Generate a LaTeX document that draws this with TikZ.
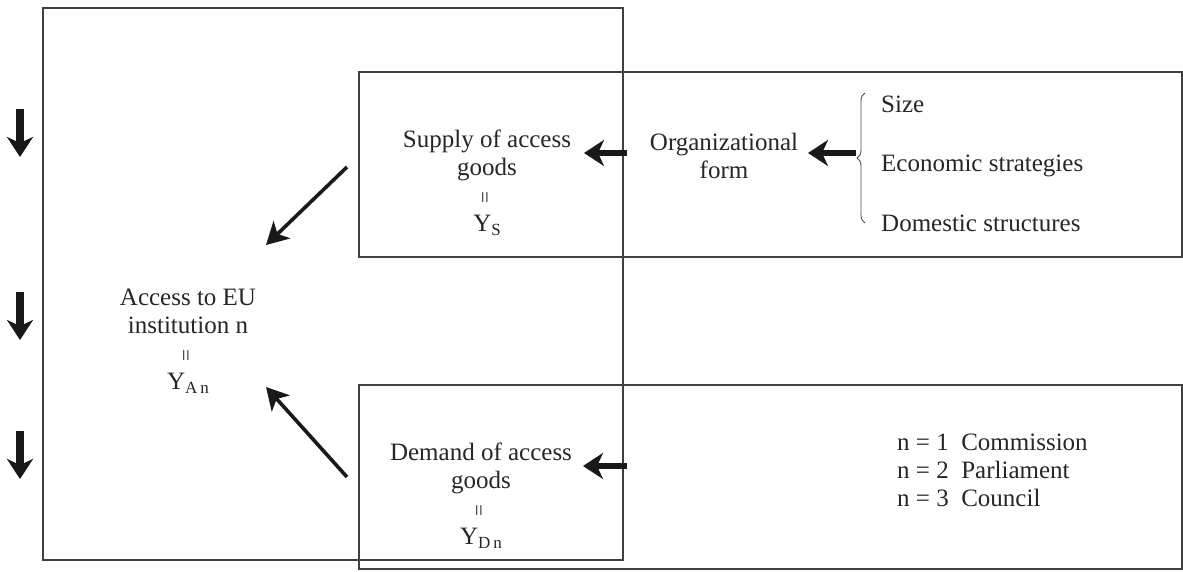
\documentclass[tikz,border=0pt]{standalone}
\usepackage{fontspec}
\setmainfont{Liberation Serif}
\usetikzlibrary{arrows.meta,decorations.pathreplacing}
\newcommand{\eqv}{{\fontsize{21}{21}\selectfont\rotatebox{90}{=}}}
\newcommand{\subs}[1]{\raisebox{-0.35ex}{\fontsize{17}{17}\selectfont #1}}
\begin{document}
\begin{tikzpicture}[x=1pt,y=-1pt,
  every node/.style={font=\fontsize{25}{28}\selectfont, text=black!85, inner sep=0pt},
  boxline/.style={draw=black!75, line width=1.6pt},
  thickarrow/.style={draw=black!90, line width=5.5pt, -{Stealth[length=20pt,width=26pt,inset=6pt]}},
  diagarrow/.style={draw=black!90, line width=3.6pt, -{Stealth[length=22pt,width=24pt,inset=6pt]}},
  downarrow/.style={draw=black!90, line width=7.5pt, -{Stealth[length=20pt,width=26pt,inset=6pt]}}]
\useasboundingbox (0,0) rectangle (1183,571);
% boxes
\draw[boxline] (43,8) rectangle (623,560);
\draw[boxline] (359,72) rectangle (1182,257);
\draw[boxline] (359,385) rectangle (1182,569);
% texts
\node[align=center] (supply) at (487,183) {Supply of access\\goods\\\eqv\\Y\subs{S}};
\node[align=center] (org) at (724,156) {Organizational\\form};
\node[align=center] (access) at (188,341) {Access to EU\\institution n\\\eqv\\Y\subs{A\,n}};
\node[align=center] (demand) at (481,496) {Demand of access\\goods\\\eqv\\Y\subs{D\,n}};
\node[anchor=west] (size) at (881,104) {Size};
\node[anchor=west] (econ) at (881,166) {Economic strategies};
\node[anchor=west] (dom) at (881,223) {Domestic structures};
\node[anchor=west,align=left] (nlist) at (897,470) {n = 1~~Commission\\n = 2~~Parliament\\n = 3~~Council};
% brace
\draw[draw=black!70, line width=0.9pt, decorate, decoration={brace, amplitude=8pt}] (865,223) -- (865,93) coordinate[pos=0.5] (bracetip);
% coordinates for arrow ends
\coordinate (s1) at (627,153);
\coordinate (e1) at (584,153);
\coordinate (s2) at (856,153);
\coordinate (e2) at (808,153);
\coordinate (s3) at (627,466);
\coordinate (e3) at (583,466);
\coordinate (d1s) at (347,167);
\coordinate (d1e) at (266,245);
\coordinate (d2s) at (347,477);
\coordinate (d2e) at (266,387);
\draw[thickarrow] (s1) -- (e1);
\draw[thickarrow] (s2) -- (e2);
\draw[thickarrow] (s3) -- (e3);
\draw[diagarrow] (d1s) -- (d1e);
\draw[diagarrow] (d2s) -- (d2e);
% left down arrows
\coordinate (a1s) at (20,109);
\coordinate (a1e) at (20,157);
\coordinate (a2s) at (20,292);
\coordinate (a2e) at (20,340);
\coordinate (a3s) at (20,431);
\coordinate (a3e) at (20,479);
\draw[downarrow] (a1s) -- (a1e);
\draw[downarrow] (a2s) -- (a2e);
\draw[downarrow] (a3s) -- (a3e);
\end{tikzpicture}
\end{document}
